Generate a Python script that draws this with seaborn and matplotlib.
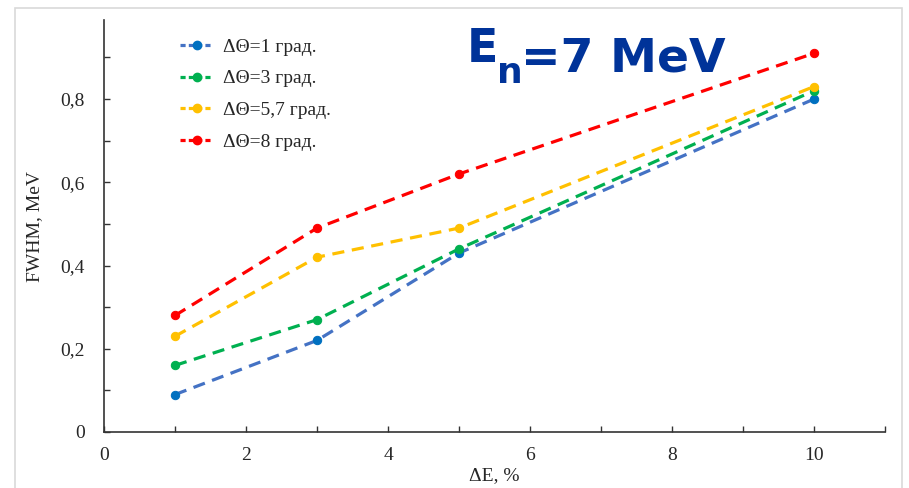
import matplotlib
matplotlib.use("Agg")
import matplotlib.pyplot as plt
from matplotlib.patches import Rectangle
from matplotlib.ticker import MultipleLocator, FuncFormatter
from matplotlib.lines import Line2D
import seaborn as sns
import pandas as pd

# data
delta_e = [1, 3, 5, 10]
fwhm_1 = [0.09, 0.22, 0.43, 0.80]
fwhm_3 = [0.16, 0.27, 0.44, 0.82]
fwhm_57 = [0.23, 0.42, 0.49, 0.83]
fwhm_8 = [0.28, 0.49, 0.62, 0.91]
labels = ["ΔΘ=1 град.", "ΔΘ=3 град.", "ΔΘ=5,7 град.", "ΔΘ=8 град."]
line_colors = ["#4472C4", "#00B050", "#FFC000", "#FF0000"]
marker_colors = ["#0070C0", "#00B050", "#FFC000", "#FF0000"]

sns.set_style("ticks")
plt.rcParams["font.family"] = ["Liberation Serif", "DejaVu Serif"]

fig = plt.figure(figsize=(9.09, 4.88), dpi=100)
ax = fig.add_axes([104 / 909, 56 / 488, (885 - 104) / 909, (432 - 20) / 488])

series = [fwhm_1, fwhm_3, fwhm_57, fwhm_8]
handles = []
for vals, lab, lc, mc in zip(series, labels, line_colors, marker_colors):
    df = pd.DataFrame({"dE": delta_e, "fwhm": vals})
    sns.lineplot(data=df, x="dE", y="fwhm", ax=ax, color=lc, lw=2.3,
                 marker="o", markersize=6, markerfacecolor=mc,
                 markeredgecolor=mc, dashes=False)
    ax.lines[-1].set_dashes([3.8, 2.4])
    handles.append(Line2D([], [], color=lc, lw=2.3, dashes=[1.6, 1.0],
                          marker="o", markersize=6, markerfacecolor=mc,
                          markeredgecolor=mc))

ax.set_xlim(0, 11)
ax.set_ylim(0, 0.99)
ax.xaxis.set_major_locator(MultipleLocator(2))
ax.xaxis.set_minor_locator(MultipleLocator(1))
ax.yaxis.set_major_locator(MultipleLocator(0.2))
ax.yaxis.set_minor_locator(MultipleLocator(0.1))
comma = FuncFormatter(lambda v, p: "0" if abs(v) < 1e-9 else f"{v:g}".replace(".", ","))
ax.xaxis.set_major_formatter(comma)
ax.yaxis.set_major_formatter(comma)
ax.tick_params(which="both", direction="in", length=4, width=1, color="#333333",
               labelsize=14, pad=11)
ax.tick_params(axis="y", pad=14)
for s in ["top", "right"]:
    ax.spines[s].set_visible(False)
for s in ["left", "bottom"]:
    ax.spines[s].set_color("#333333")
    ax.spines[s].set_linewidth(1.2)

ax.set_xlabel("ΔE, %", fontsize=14, labelpad=2)
ax.set_ylabel("FWHM, MeV", fontsize=14, labelpad=12)

ax.legend(handles, labels, loc="upper left",
          bbox_to_anchor=(180 / 909, 1 - 38 / 488), bbox_transform=fig.transFigure,
          frameon=False, fontsize=14, handlelength=1.7, handletextpad=0.5,
          labelspacing=0.73, borderpad=0, borderaxespad=0)

title_kw = dict(fontweight="bold", color="#003399", family="DejaVu Sans",
                va="baseline")
t1 = fig.text(467 / 909, 1 - 62 / 488, "E", fontsize=33, **title_kw)
ax.annotate("n", xy=(1, 0), xycoords=t1, xytext=(-1, -8),
            textcoords="offset points", fontsize=26, **title_kw)
ax.annotate("=7 MeV", xy=(1, 0), xycoords=t1, xytext=(16, 0),
            textcoords="offset points", fontsize=34, **title_kw)

fig.patches.append(Rectangle((15 / 909, -0.05), (902 - 15) / 909, 1 - 8 / 488 + 0.05,
                             transform=fig.transFigure, fill=False,
                             edgecolor="#d9d9d9", lw=1.2))

fig.savefig("out.png", dpi=100)
